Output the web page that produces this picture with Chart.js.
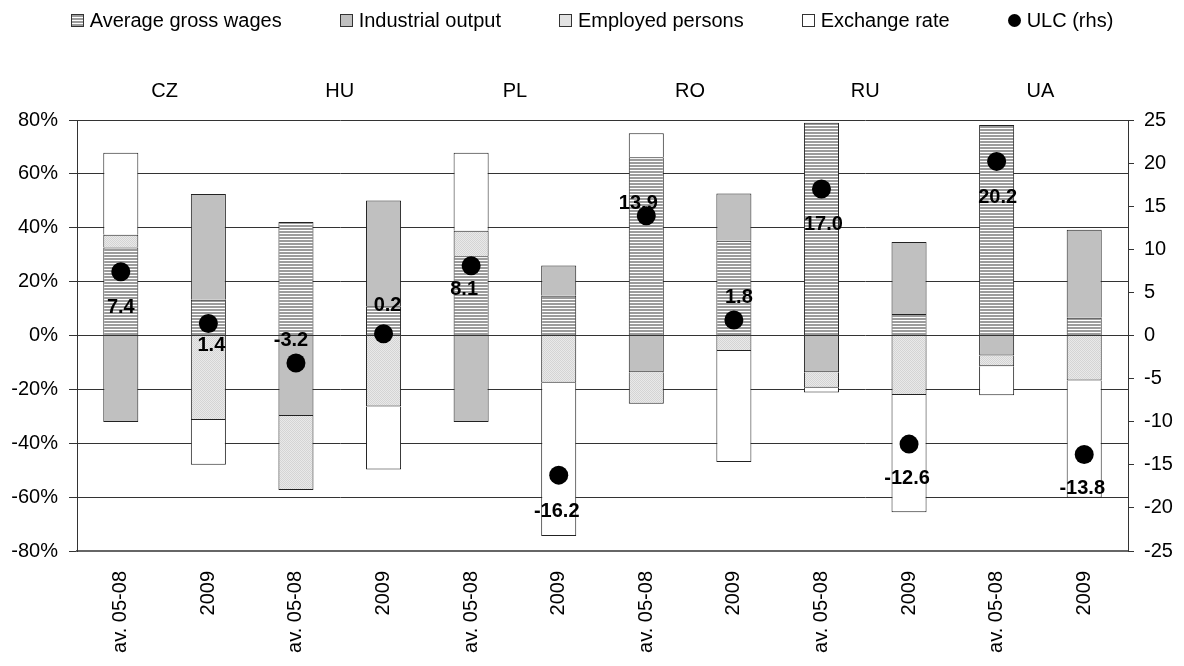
<!DOCTYPE html>
<html>
<head>
<meta charset="utf-8">
<script src="https://cdn.jsdelivr.net/npm/chart.js@4/dist/chart.umd.min.js"></script>
<style>
  body { margin: 0; background: #fff; font-family: "Liberation Sans", Arial, sans-serif; }
  #wrap { position: relative; width: 1184px; height: 666px; }
  #legend { position: absolute; top: 9px; left: 0; width: 1184px; display: flex; justify-content: center; gap: 58px; font-size: 20px; line-height: 22px; color: #000; }
  #legend .item { display: flex; align-items: center; white-space: nowrap; }
  #legend .sw { width: 13px; height: 13px; border: 1px solid #333; margin-right: 6px; box-sizing: border-box; }
  #legend .dot { width: 13px; height: 13px; border-radius: 50%; background: #000; margin-right: 6px; }
</style>
</head>
<body>
<div id="wrap">
  <canvas id="chart"></canvas>
  <div id="legend"></div>
</div>
<script>
const periods = ['av. 05-08', '2009', 'av. 05-08', '2009', 'av. 05-08', '2009', 'av. 05-08', '2009', 'av. 05-08', '2009', 'av. 05-08', '2009'];
const countries = ['CZ', 'HU', 'PL', 'RO', 'RU', 'UA'];

const wages      = [32.7, 13.3, 42.1, 10.9, 29.4, 14.8, 66.2, 35.2, 79.0, 8.0, 78.1, 6.6];
const industrial = [-32.1, 39.2, -29.9, 39.2, -32.1, 11.2, -13.6, 17.5, -13.6, 26.7, -7.4, 32.7];
const employed   = [4.7, -31.4, -27.5, -26.4, 9.5, -17.5, -11.7, -5.8, -5.8, -22.1, -4.0, -16.7];
const exchange   = [30.4, -16.6, null, -23.3, 28.9, -56.9, 8.9, -41.2, -1.8, -43.5, -10.8, -43.5];
const ulc        = [7.4, 1.4, -3.2, 0.2, 8.1, -16.2, 13.9, 1.8, 17.0, -12.6, 20.2, -13.8];

const pctTicks = [-80, -60, -40, -20, 0, 20, 40, 60, 80];
const rhsTicks = [-25, -20, -15, -10, -5, 0, 5, 10, 15, 20, 25];

// where each ULC label sits relative to its dot
const labelShift = [[0, 36], [3, 22], [-5, -23], [4, -28], [-7, 24], [-2, 36], [-8, -12], [5, -22], [2, 36], [-2, 34], [1, 36], [-2, 34]];

const FONT = '"Liberation Sans", Arial, sans-serif';

function makePattern(w, h, draw) {
  const c = document.createElement('canvas');
  c.width = w; c.height = h;
  draw(c.getContext('2d'));
  return c.getContext('2d').createPattern(c, 'repeat');
}

const hatch = makePattern(1, 3, g => {
  g.fillStyle = '#9c9c9c'; g.fillRect(0, 0, 1, 2);
  g.fillStyle = '#ffffff'; g.fillRect(0, 2, 1, 1);
});
const dotted = makePattern(2, 2, g => {
  g.fillStyle = '#e9e9e9'; g.fillRect(0, 0, 2, 2);
  g.fillStyle = '#d4d4d4'; g.fillRect(0, 0, 1, 1); g.fillRect(1, 1, 1, 1);
});

const barStyle = { borderColor: '#222', borderWidth: 1, borderSkipped: 'start', barPercentage: 0.4, categoryPercentage: 1, order: 1 };

// legend as plain html
const legendItems = [
  ['Average gross wages', 'background: repeating-linear-gradient(to bottom, #9c9c9c 0 2px, #fff 2px 3px);'],
  ['Industrial output', 'background: #c0c0c0;'],
  ['Employed persons', 'background: #e2e2e2;'],
  ['Exchange rate', 'background: #fff;'],
  ['ULC (rhs)', null]
];
const legendEl = document.getElementById('legend');
legendItems.forEach(([text, bg]) => {
  const it = document.createElement('div');
  it.className = 'item';
  const sw = document.createElement('span');
  if (bg) { sw.className = 'sw'; sw.setAttribute('style', bg); } else { sw.className = 'dot'; }
  it.appendChild(sw);
  it.appendChild(document.createTextNode(text));
  legendEl.appendChild(it);
});

const ulcLabels = {
  id: 'ulcLabels',
  afterDatasetsDraw(chart) {
    const meta = chart.getDatasetMeta(4);
    const ctx = chart.ctx;
    ctx.save();
    ctx.font = 'bold 20px ' + FONT;
    ctx.fillStyle = '#000';
    ctx.textAlign = 'center';
    ctx.textBaseline = 'middle';
    meta.data.forEach((pt, i) => {
      ctx.fillText(ulc[i].toFixed(1), pt.x + labelShift[i][0], pt.y + labelShift[i][1]);
    });
    ctx.restore();
  }
};

const ctx = document.getElementById('chart').getContext('2d');
new Chart(ctx, {
  type: 'bar',
  data: {
    labels: periods,
    datasets: [
      { label: 'Average gross wages', data: wages, backgroundColor: hatch, ...barStyle },
      { label: 'Industrial output', data: industrial, backgroundColor: '#c0c0c0', ...barStyle },
      { label: 'Employed persons', data: employed, backgroundColor: dotted, ...barStyle },
      { label: 'Exchange rate', data: exchange, backgroundColor: '#ffffff', ...barStyle },
      { type: 'line', label: 'ULC (rhs)', data: ulc, yAxisID: 'y2', showLine: false,
        pointRadius: 9.5, pointBackgroundColor: '#000', pointBorderColor: '#000', pointBorderWidth: 0, order: 0 }
    ]
  },
  options: {
    responsive: true,
    maintainAspectRatio: false,
    animation: false,
    layout: { padding: 0 },
    plugins: { legend: { display: false }, tooltip: { enabled: false } },
    scales: {
      x: {
        stacked: true,
        grid: { display: false, drawTicks: false },
        border: { color: '#666', width: 2 },
        ticks: { color: '#000', font: { size: 20, family: FONT }, minRotation: 90, maxRotation: 90, padding: 20, autoSkip: false },
        afterFit: s => { s.height = 115; }
      },
      x2: {
        type: 'category',
        labels: countries,
        position: 'top',
        offset: true,
        grid: { display: false, drawTicks: false },
        border: { display: false },
        ticks: { color: '#000', font: { size: 20, family: FONT }, padding: 17 },
        afterFit: s => { s.height = 120; }
      },
      y: {
        stacked: true,
        min: -80, max: 80,
        afterBuildTicks: s => { s.ticks = pctTicks.map(v => ({ value: v })); },
        grid: { color: '#333', tickLength: 8, lineWidth: 1 },
        border: { color: '#333' },
        ticks: { color: '#000', font: { size: 20, family: FONT }, padding: 11, callback: v => v + '%' },
        afterFit: s => { s.width = 77; }
      },
      y2: {
        position: 'right',
        min: -25, max: 25,
        afterBuildTicks: s => { s.ticks = rhsTicks.map(v => ({ value: v })); },
        grid: { drawOnChartArea: false, color: '#333', tickLength: 6 },
        border: { color: '#333' },
        ticks: { color: '#000', font: { size: 20, family: FONT }, padding: 10 },
        afterFit: s => { s.width = 56; }
      }
    }
  },
  plugins: [ulcLabels]
});
</script>
</body>
</html>
